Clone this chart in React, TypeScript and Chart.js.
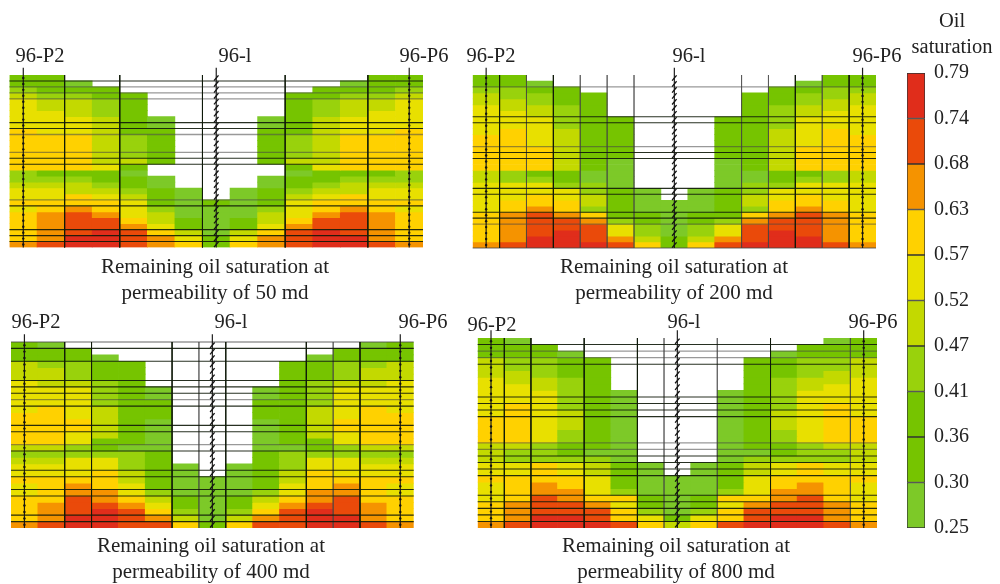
import React, { useEffect, useRef } from "react";
import { Chart, registerables } from "chart.js";

Chart.register(...registerables);

// Oil saturation classes: one colour per class, lowest first.
const binEdges = [0.25, 0.30, 0.36, 0.41, 0.47, 0.52, 0.57, 0.63, 0.68, 0.74, 0.79];
const binColors = ["#7DC928", "#76C400", "#76C400", "#99D20C", "#C3D900", "#E8E000", "#FFD100", "#F59300", "#EA4A0A", "#E02D1B"];
const binLabels = ["0.25", "0.30", "0.36", "0.41", "0.47", "0.52", "0.57", "0.63", "0.68", "0.74", "0.79"];

// Each row is a model layer; each digit is the class of one grid column, "." is no cell.
const rows50 = [
  "11...........11", "110.........011", "3111.......1113", "43311.....11334", "54431.....13445",
  "54431.....13445", "55431.....13455", "555410...014555", "555410...014555", "655411...114556",
  "666431...134666", "666431...134666", "666431...134666", "666431...134666", "666441...144666",
  "66651.....15666", "31110.....01113", "333110...011333", "444310...013444", "5544310.0134455",
  "5565410.0145655", "666651010156666", "567653000356765", "678754000457876", "678864101468876",
  "678875101578876", "678986404689876", "679987515789976", "789987616789987",
];
const rows200 = [
  "11...........11", "110.........011", "3311.......1133", "43311.....11334", "44311.....11344",
  "54431.....13445", "55431.....13455", "555311...113555", "555311...113555", "565411...114565",
  "665411...114566", "665411...114566", "666411...114666", "666411...114666", "666410...014666",
  "666410...014666", "431100...001134", "433100...001334", "555330...033555", "5555310.0135555",
  "5565410.0145655", "566641000146665", "567631000136765", "678761101167876", "678873101378876",
  "678885303588876", "678985303589876", "679987414789976", "789998616899987",
];
const rows400 = [
  "10...........01", "111.........111", "1110.......0111", "43311.....11334", "44311.....11344",
  "44311.....11344", "54431.....13445", "555310...013555", "555310...013555", "555311...113555",
  "565411...114565", "665411...114566", "666410...014666", "666410...014666", "665410...014566",
  "665110...011566", "443100...001344", "333331...133333", "445531...135544", "5555310.0135555",
  "5556410.0146555", "666641000146666", "567651000156765", "567753000357765", "668764101467866",
  "678875101578876", "678986303689876", "679987404789976", "789988616889987",
];
const rows800 = [
  "10...........01", "111.........111", "1110.......0111", "43311.....11334", "43311.....11334",
  "44311.....11344", "54431.....13445", "55431.....13455", "555310...013555", "555310...013555",
  "565310...013565", "565410...014565", "665410...014566", "665410...014566", "665310...013566",
  "665310...013566", "443110...011344", "433100...001334", "433330...033334", "5565410.0145655",
  "5565410.0145655", "666651000156666", "567651000156765", "567753000357765", "568766101667865",
  "678875101578876", "678886303688876", "679986515689976", "789998646899987",
];

// Grid lines: dark and pale layer boundaries, dark and pale column boundaries.
const darkLayers50 = [1, 8, 9, 14, 15, 22, 26, 27, 28];
const paleLayers50 = [2, 3, 4, 10, 13, 21];
const darkCols50 = [2, 4, 7, 10, 13];
const paleCols50: number[] = [];

const darkLayers200 = [7, 8, 13, 14, 19, 20, 23, 24];
const paleLayers200 = [2, 12, 25, 29];
const darkCols200 = [1, 3, 12, 14];
const paleCols200 = [2, 4, 5, 6, 10, 11, 13];

const darkLayers400 = [1, 3, 6, 7, 8, 10, 13, 14, 17, 20, 21, 23, 24, 27, 28];
const paleLayers400 = [0, 9, 16];
const darkCols400 = [2, 3, 6, 8, 11, 13];
const paleCols400 = [7, 12];

const darkLayers800 = [1, 4, 9, 10, 11, 12, 18, 19, 20, 21, 24, 25, 26, 27, 28];
const paleLayers800 = [2, 3, 16, 17];
const darkCols800 = [1, 2, 4, 6, 11];
const paleCols800 = [7, 9, 14];

const wellCols = [0.5, 7.5, 14.5];
const wellLabels = ["96-P2", "96-l", "96-P6"];
const wellMarks = [
  0, 1, 2, 3, 4, 5, 6, 7, 8, 9, 10, 11, 12, 13, 14, 15, 16, 17, 18, 19, 20, 21, 22, 23, 24, 25, 26, 27, 28,
];

const COLS = 15;
const LAYERS = 29;
const PAD = 12;

type PanelSpec = {
  rows: string[];
  dark: number[];
  pale: number[];
  darkC: number[];
  paleC: number[];
  box: [number, number, number, number];
  labelX: number[];
  labelY: number[];
  caption: string[];
  capX: number;
  capY: number;
};

const panels: PanelSpec[] = [
  {
    rows: rows50, dark: darkLayers50, pale: paleLayers50, darkC: darkCols50, paleC: paleCols50,
    box: [9.5, 75, 423, 247.5], labelX: [40, 235, 424], labelY: [55, 55, 55],
    caption: ["Remaining oil saturation at", "permeability of 50 md"], capX: 215, capY: 266,
  },
  {
    rows: rows200, dark: darkLayers200, pale: paleLayers200, darkC: darkCols200, paleC: paleCols200,
    box: [472.7, 75, 876, 248], labelX: [491, 689, 877], labelY: [55, 55, 55],
    caption: ["Remaining oil saturation at", "permeability of 200 md"], capX: 674, capY: 266,
  },
  {
    rows: rows400, dark: darkLayers400, pale: paleLayers400, darkC: darkCols400, paleC: paleCols400,
    box: [11, 342, 413.7, 528], labelX: [36, 231, 423], labelY: [321, 321, 321],
    caption: ["Remaining oil saturation at", "permeability of 400 md"], capX: 211, capY: 545,
  },
  {
    rows: rows800, dark: darkLayers800, pale: paleLayers800, darkC: darkCols800, paleC: paleCols800,
    box: [477.7, 338, 877, 528], labelX: [492, 684, 873], labelY: [324, 321, 321],
    caption: ["Remaining oil saturation at", "permeability of 800 md"], capX: 676, capY: 545,
  },
];

const FONT = '"Liberation Serif", serif';

function midValue(level: number) {
  return (binEdges[level] + binEdges[level + 1]) / 2;
}
function colorOf(value: number) {
  let i = binEdges.findIndex((e, k) => value >= e && value < binEdges[k + 1]);
  if (i < 0) i = binColors.length - 1;
  return binColors[i];
}

function buildDatasets(p: PanelSpec) {
  const ds: any[] = [];
  p.rows.forEach((row, r) => {
    const data: any[] = [];
    const colors: string[] = [];
    row.split("").forEach((ch, c) => {
      if (ch === ".") return;
      const v = midValue(Number(ch));
      data.push({ x: c + 0.5, y: [r, r + 1], v });
      colors.push(colorOf(v));
    });
    ds.push({
      type: "bar", data, backgroundColor: colors, borderWidth: 0, grouped: false,
      barPercentage: 1, categoryPercentage: 1, order: 3,
    });
  });
  const seg = (data: any[], color: string, width: number, order: number) => ({
    type: "line", data, borderColor: color, borderWidth: width, pointRadius: 0, clip: false, order, tension: 0,
  });
  p.pale.forEach((y) => ds.push(seg([{ x: 0, y }, { x: COLS, y }], "rgba(70,70,70,0.55)", 1.3, 2)));
  p.dark.forEach((y) => ds.push(seg([{ x: 0, y }, { x: COLS, y }], "rgba(15,25,10,0.9)", 1.1, 1)));
  p.paleC.forEach((x) => ds.push(seg([{ x, y: 0 }, { x, y: LAYERS }], "rgba(70,70,70,0.55)", 1, 2)));
  p.darkC.forEach((x) => ds.push(seg([{ x, y: 0 }, { x, y: LAYERS }], "rgba(15,25,10,0.9)", 1, 1)));
  wellCols.forEach((x, i) => {
    const isCentre = i === 1;
    ds.push(seg([{ x, y: -1.2 }, { x, y: LAYERS }], "rgba(20,20,20,0.95)", 1.2, 0));
    ds.push({
      type: "line", showLine: false, clip: false, order: 0,
      data: wellMarks.map((m) => ({ x, y: m + 0.5 })),
      pointStyle: isCentre ? "line" : "circle",
      pointRotation: isCentre ? -50 : 0,
      pointRadius: isCentre ? 3.5 : 1.2,
      pointBorderWidth: isCentre ? 1.3 : 0,
      pointBorderColor: "#111",
      pointBackgroundColor: "#111",
    });
  });
  return ds;
}

function Panel({ spec }: { spec: PanelSpec }) {
  const ref = useRef<HTMLCanvasElement>(null);
  const [x0, y0, x1, y1] = spec.box;
  const left = Math.floor(x0) - PAD;
  const top = Math.floor(y0) - PAD;
  const width = Math.ceil(x1) - left + PAD;
  const height = Math.ceil(y1) - top + PAD;
  useEffect(() => {
    const chart = new Chart(ref.current as HTMLCanvasElement, {
      type: "bar",
      data: { datasets: buildDatasets(spec) },
      options: {
        responsive: false,
        animation: false,
        devicePixelRatio: 1,
        layout: {
          padding: {
            left: x0 - left,
            top: y0 - top,
            right: left + width - x1,
            bottom: top + height - y1,
          },
        },
        plugins: { legend: { display: false }, tooltip: { enabled: false } },
        scales: {
          x: { type: "linear", min: 0, max: COLS, display: false, offset: false },
          y: { type: "linear", min: 0, max: LAYERS, reverse: true, display: false },
        },
      } as any,
    } as any);
    return () => chart.destroy();
  }, []);
  return (
    <>
      <canvas ref={ref} width={width} height={height} style={{ position: "absolute", left, top }} />
      {wellLabels.map((t, i) => (
        <div key={t} style={{ ...textStyle, left: spec.labelX[i] - 60, top: spec.labelY[i] - 11 }}>{t}</div>
      ))}
      {spec.caption.map((t, i) => (
        <div key={t} style={{ ...textStyle, fontSize: 21, left: spec.capX - 160, width: 320, top: spec.capY - 11 + i * 26 }}>{t}</div>
      ))}
    </>
  );
}

const textStyle: React.CSSProperties = {
  position: "absolute", width: 120, textAlign: "center", fontFamily: FONT, fontSize: 20.5,
  lineHeight: "22px", color: "#222", whiteSpace: "nowrap",
};

function ColorBar() {
  const ref = useRef<HTMLCanvasElement>(null);
  useEffect(() => {
    const chart = new Chart(ref.current as HTMLCanvasElement, {
      type: "bar",
      data: {
        labels: ["bar"],
        datasets: binColors.map((c, i) => ({
          data: [[i, i + 1]],
          backgroundColor: c,
          borderColor: "#333",
          borderWidth: 1,
          borderSkipped: false,
          grouped: false,
          barPercentage: 1,
          categoryPercentage: 1,
        })),
      },
      options: {
        responsive: false,
        animation: false,
        devicePixelRatio: 1,
        layout: { padding: { left: 7, top: 2, bottom: 2, right: 0 } },
        plugins: { legend: { display: false }, tooltip: { enabled: false } },
        scales: {
          x: { display: false },
          y: {
            position: "right",
            min: 0,
            max: 10,
            afterFit: (s: any) => { s.width = 75; },
            afterBuildTicks: (s: any) => { s.ticks = binLabels.map((_, i) => ({ value: i })); },
            grid: { display: false, drawTicks: false },
            border: { display: false },
            ticks: {
              padding: 9,
              autoSkip: false,
              color: "#222",
              font: { family: FONT, size: 20 },
              callback: (v: any) => binLabels[Number(v)],
            },
          },
        },
      } as any,
    } as any);
    return () => chart.destroy();
  }, []);
  return <canvas ref={ref} width={100} height={497} style={{ position: "absolute", left: 900, top: 52 }} />;
}

export default function App() {
  return (
    <div style={{ position: "fixed", left: 0, top: 0, width: 1000, height: 584, background: "#fff", overflow: "hidden" }}>
      {panels.map((p) => <Panel key={p.caption[1]} spec={p} />)}
      <ColorBar />
      <div style={{ ...textStyle, left: 892, width: 120, top: 9 }}>Oil</div>
      <div style={{ ...textStyle, left: 892, width: 120, top: 35 }}>saturation</div>
    </div>
  );
}
